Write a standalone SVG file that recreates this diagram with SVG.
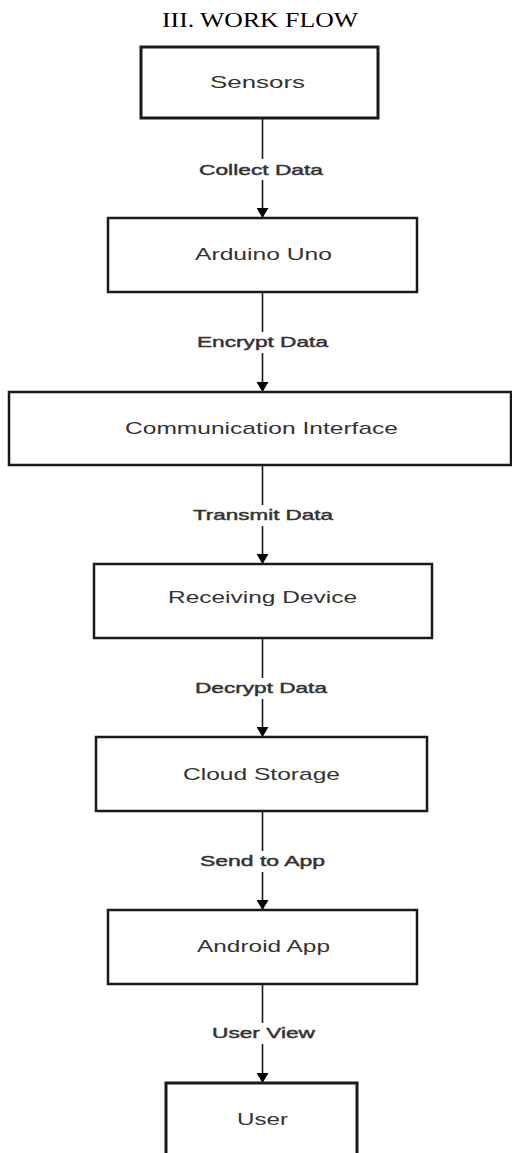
<svg xmlns="http://www.w3.org/2000/svg" width="512" height="1153" viewBox="0 0 512 1153">
<style>
.box{fill:#fff;stroke:#1a1a1a;stroke-width:2.5}
.thick{stroke-width:3}
.nt{font-family:"Liberation Sans",Arial,sans-serif;font-size:17px;fill:#333}
.lt{font-family:"Liberation Sans",Arial,sans-serif;font-size:15px;fill:#333;stroke:#333;stroke-width:0.45}
.ln{stroke:#1a1a1a;stroke-width:1.6;fill:none}
.title{font-family:"Liberation Serif","Times New Roman",serif;font-size:21px;fill:#000}
</style>
<defs>
<marker id="ah" viewBox="0 0 10 12" refX="10" refY="6" markerWidth="10" markerHeight="12" markerUnits="userSpaceOnUse" orient="auto">
<path d="M0,0 L10,6 L0,12 z" fill="#000"/>
</marker>
</defs>
<rect width="512" height="1153" fill="#fff"/>
<text class="title" x="162" y="27" textLength="196" lengthAdjust="spacingAndGlyphs">III. WORK FLOW</text>

<g id="connectors">
<line class="ln" x1="262.5" y1="118" x2="262.5" y2="218" marker-end="url(#ah)"/>
<line class="ln" x1="262.5" y1="292" x2="262.5" y2="392" marker-end="url(#ah)"/>
<line class="ln" x1="262.5" y1="465" x2="262.5" y2="564" marker-end="url(#ah)"/>
<line class="ln" x1="262.5" y1="638" x2="262.5" y2="737" marker-end="url(#ah)"/>
<line class="ln" x1="262.5" y1="811" x2="262.5" y2="910" marker-end="url(#ah)"/>
<line class="ln" x1="262.5" y1="984" x2="262.5" y2="1083" marker-end="url(#ah)"/>
<g fill="#fff">
<rect x="197" y="159" width="128" height="21"/>
<rect x="195" y="332" width="135" height="21"/>
<rect x="191" y="505" width="144" height="21"/>
<rect x="193" y="678" width="136" height="21"/>
<rect x="198" y="851" width="129" height="21"/>
<rect x="210" y="1023" width="107" height="21"/>
</g>
<text class="lt" x="199" y="175" textLength="124" lengthAdjust="spacingAndGlyphs">Collect Data</text>
<text class="lt" x="197" y="347" textLength="131" lengthAdjust="spacingAndGlyphs">Encrypt Data</text>
<text class="lt" x="193" y="520" textLength="140" lengthAdjust="spacingAndGlyphs">Transmit Data</text>
<text class="lt" x="195" y="693" textLength="132" lengthAdjust="spacingAndGlyphs">Decrypt Data</text>
<text class="lt" x="200" y="866" textLength="125" lengthAdjust="spacingAndGlyphs">Send to App</text>
<text class="lt" x="212" y="1038" textLength="103" lengthAdjust="spacingAndGlyphs">User View</text>
</g>

<g id="sensors">
<rect class="box thick" x="141" y="47" width="237" height="71"/>
<text class="nt" x="210" y="88" textLength="95" lengthAdjust="spacingAndGlyphs">Sensors</text>
</g>
<g id="arduino">
<rect class="box" x="108" y="218" width="309" height="74"/>
<text class="nt" x="195" y="260" textLength="137" lengthAdjust="spacingAndGlyphs">Arduino Uno</text>
</g>
<g id="comm">
<rect class="box" x="9" y="392" width="502" height="73"/>
<text class="nt" x="125" y="434" textLength="273" lengthAdjust="spacingAndGlyphs">Communication Interface</text>
</g>
<g id="receiving">
<rect class="box" x="94" y="564" width="338" height="74"/>
<text class="nt" x="168" y="603" textLength="189" lengthAdjust="spacingAndGlyphs">Receiving Device</text>
</g>
<g id="cloud">
<rect class="box" x="96" y="737" width="331" height="74"/>
<text class="nt" x="183" y="780" textLength="157" lengthAdjust="spacingAndGlyphs">Cloud Storage</text>
</g>
<g id="android">
<rect class="box" x="108" y="910" width="309" height="74"/>
<text class="nt" x="197" y="952" textLength="133" lengthAdjust="spacingAndGlyphs">Android App</text>
</g>
<g id="user">
<rect class="box thick" x="166" y="1083" width="191" height="90"/>
<text class="nt" x="237" y="1125" textLength="51" lengthAdjust="spacingAndGlyphs">User</text>
</g>
</svg>
